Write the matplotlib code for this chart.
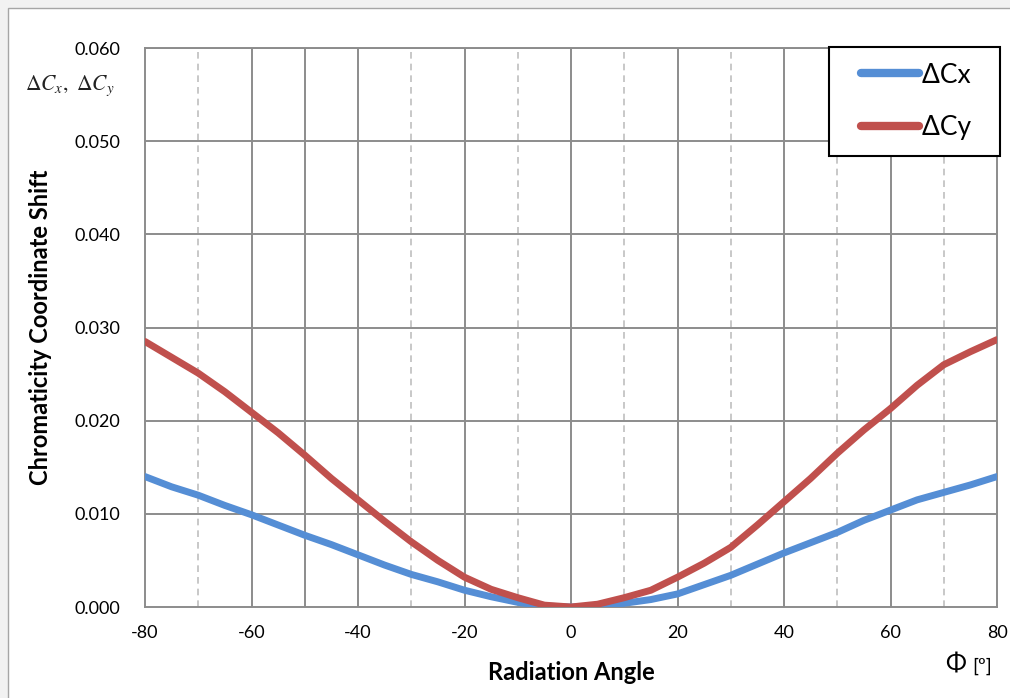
import matplotlib
matplotlib.use("Agg")
import matplotlib.pyplot as plt
from matplotlib.patches import Rectangle
from matplotlib.lines import Line2D
from matplotlib.legend_handler import HandlerLine2D

angles = [-80, -75, -70, -65, -60, -55, -50, -45, -40, -35, -30, -25, -20, -15, -10, -5, 0,
          5, 10, 15, 20, 25, 30, 35, 40, 45, 50, 55, 60, 65, 70, 75, 80]
delta_cx = [0.0140, 0.0129, 0.0120, 0.0109, 0.0099, 0.0088, 0.0077, 0.0067, 0.0056, 0.0045, 0.0035,
            0.0027, 0.0018, 0.0011, 0.0005, 0.0001, 0.0000,
            0.0001, 0.0004, 0.0008, 0.0014, 0.0024, 0.0034, 0.0046, 0.0058, 0.0069, 0.0080,
            0.0093, 0.0104, 0.0115, 0.0123, 0.0131, 0.0140]
delta_cy = [0.0285, 0.0268, 0.0251, 0.0231, 0.0209, 0.0187, 0.0163, 0.0138, 0.0115, 0.0092, 0.0070,
            0.0050, 0.0032, 0.0019, 0.0010, 0.0002, 0.0000,
            0.0003, 0.0010, 0.0018, 0.0032, 0.0047, 0.0064, 0.0088, 0.0113, 0.0138, 0.0165,
            0.0190, 0.0213, 0.0238, 0.0260, 0.0274, 0.0287]
xticks = [-80, -60, -40, -20, 0, 20, 40, 60, 80]
yticks = [0.000, 0.010, 0.020, 0.030, 0.040, 0.050, 0.060]
solid_vgrid = [-60, -50, -40, -20, 0, 20, 40, 60]
dashed_vgrid = [-70, -30, -10, 10, 30, 50, 70]

plt.rcParams['font.family'] = ['Lato', 'DejaVu Sans']
plt.rcParams['mathtext.fontset'] = 'stix'

fig = plt.figure(figsize=(10.10, 6.98), dpi=100)
fig.patch.set_facecolor('#f2f2f2')
bg = Rectangle((8 / 1010, -0.1), 1.2, (698 - 8) / 698 + 0.1,
               transform=fig.transFigure, facecolor='white',
               edgecolor='#a6a6a6', linewidth=1.0, zorder=-10)
fig.patches.append(bg)

ax = fig.add_axes([145 / 1010, 1 - 607 / 698, (997 - 145) / 1010, (607 - 48) / 698])
ax.set_zorder(1)
ax.set_facecolor('white')
ax.set_xlim(-80, 80)
ax.set_ylim(0, 0.060)

for v in solid_vgrid:
    ax.axvline(v, color='#8c8c8c', linewidth=1.4, zorder=1)
for v in dashed_vgrid:
    ax.axvline(v, color='#bfbfbf', linewidth=1.2, linestyle=(0, (4, 3)), zorder=1)
for h in yticks[1:]:
    ax.axhline(h, color='#8c8c8c', linewidth=1.4, zorder=1)

for s in ax.spines.values():
    s.set_color('#8c8c8c')
    s.set_linewidth(1.4)

ax.plot(angles, delta_cx, color='#558ED5', linewidth=5.0, solid_capstyle='round',
        label='ΔCx  ', zorder=3)
ax.plot(angles, delta_cy, color='#C0504D', linewidth=5.0, solid_capstyle='round',
        label='ΔCy  ', zorder=4)

ax.set_xticks(xticks)
ax.set_xticklabels([str(t) for t in xticks])
ax.set_yticks(yticks)
ax.set_yticklabels([f'{t:.3f}' for t in yticks])
ax.tick_params(axis='both', length=0, labelsize=13, colors='black')
ax.tick_params(axis='x', pad=13)
ax.tick_params(axis='y', pad=18)

ax.set_xlabel('Radiation Angle', fontsize=17, fontweight='bold', labelpad=14)
ax.set_ylabel('Chromaticity Coordinate Shift', fontsize=17, fontweight='bold', labelpad=16)

fig.text(70 / 1010, 1 - 86 / 698, r'$\Delta C_x,\ \Delta C_y$', fontsize=15.5,
         ha='center', va='center', color='#222222')
fig.text(955 / 1010, 1 - 664 / 698, 'Φ', fontsize=18, ha='center', va='center')
fig.text(982 / 1010, 1 - 666 / 698, '[º]', fontsize=14, ha='center', va='center')

leg = ax.legend(loc='upper right', bbox_to_anchor=(1.004, 1.002), fontsize=19,
                frameon=True, fancybox=False, handlelength=2.8, handletextpad=0.12,
                borderpad=0.6, labelspacing=1.05, borderaxespad=0,
                handler_map={Line2D: HandlerLine2D(xpad=0.6)})
leg.get_frame().set_edgecolor('black')
leg.get_frame().set_linewidth(1.5)
leg.get_frame().set_alpha(1)
leg.set_zorder(10)
for h in leg.get_lines():
    h.set_linewidth(6)
    h.set_solid_capstyle('round')

fig.savefig('out.png', dpi=100, facecolor=fig.get_facecolor())
